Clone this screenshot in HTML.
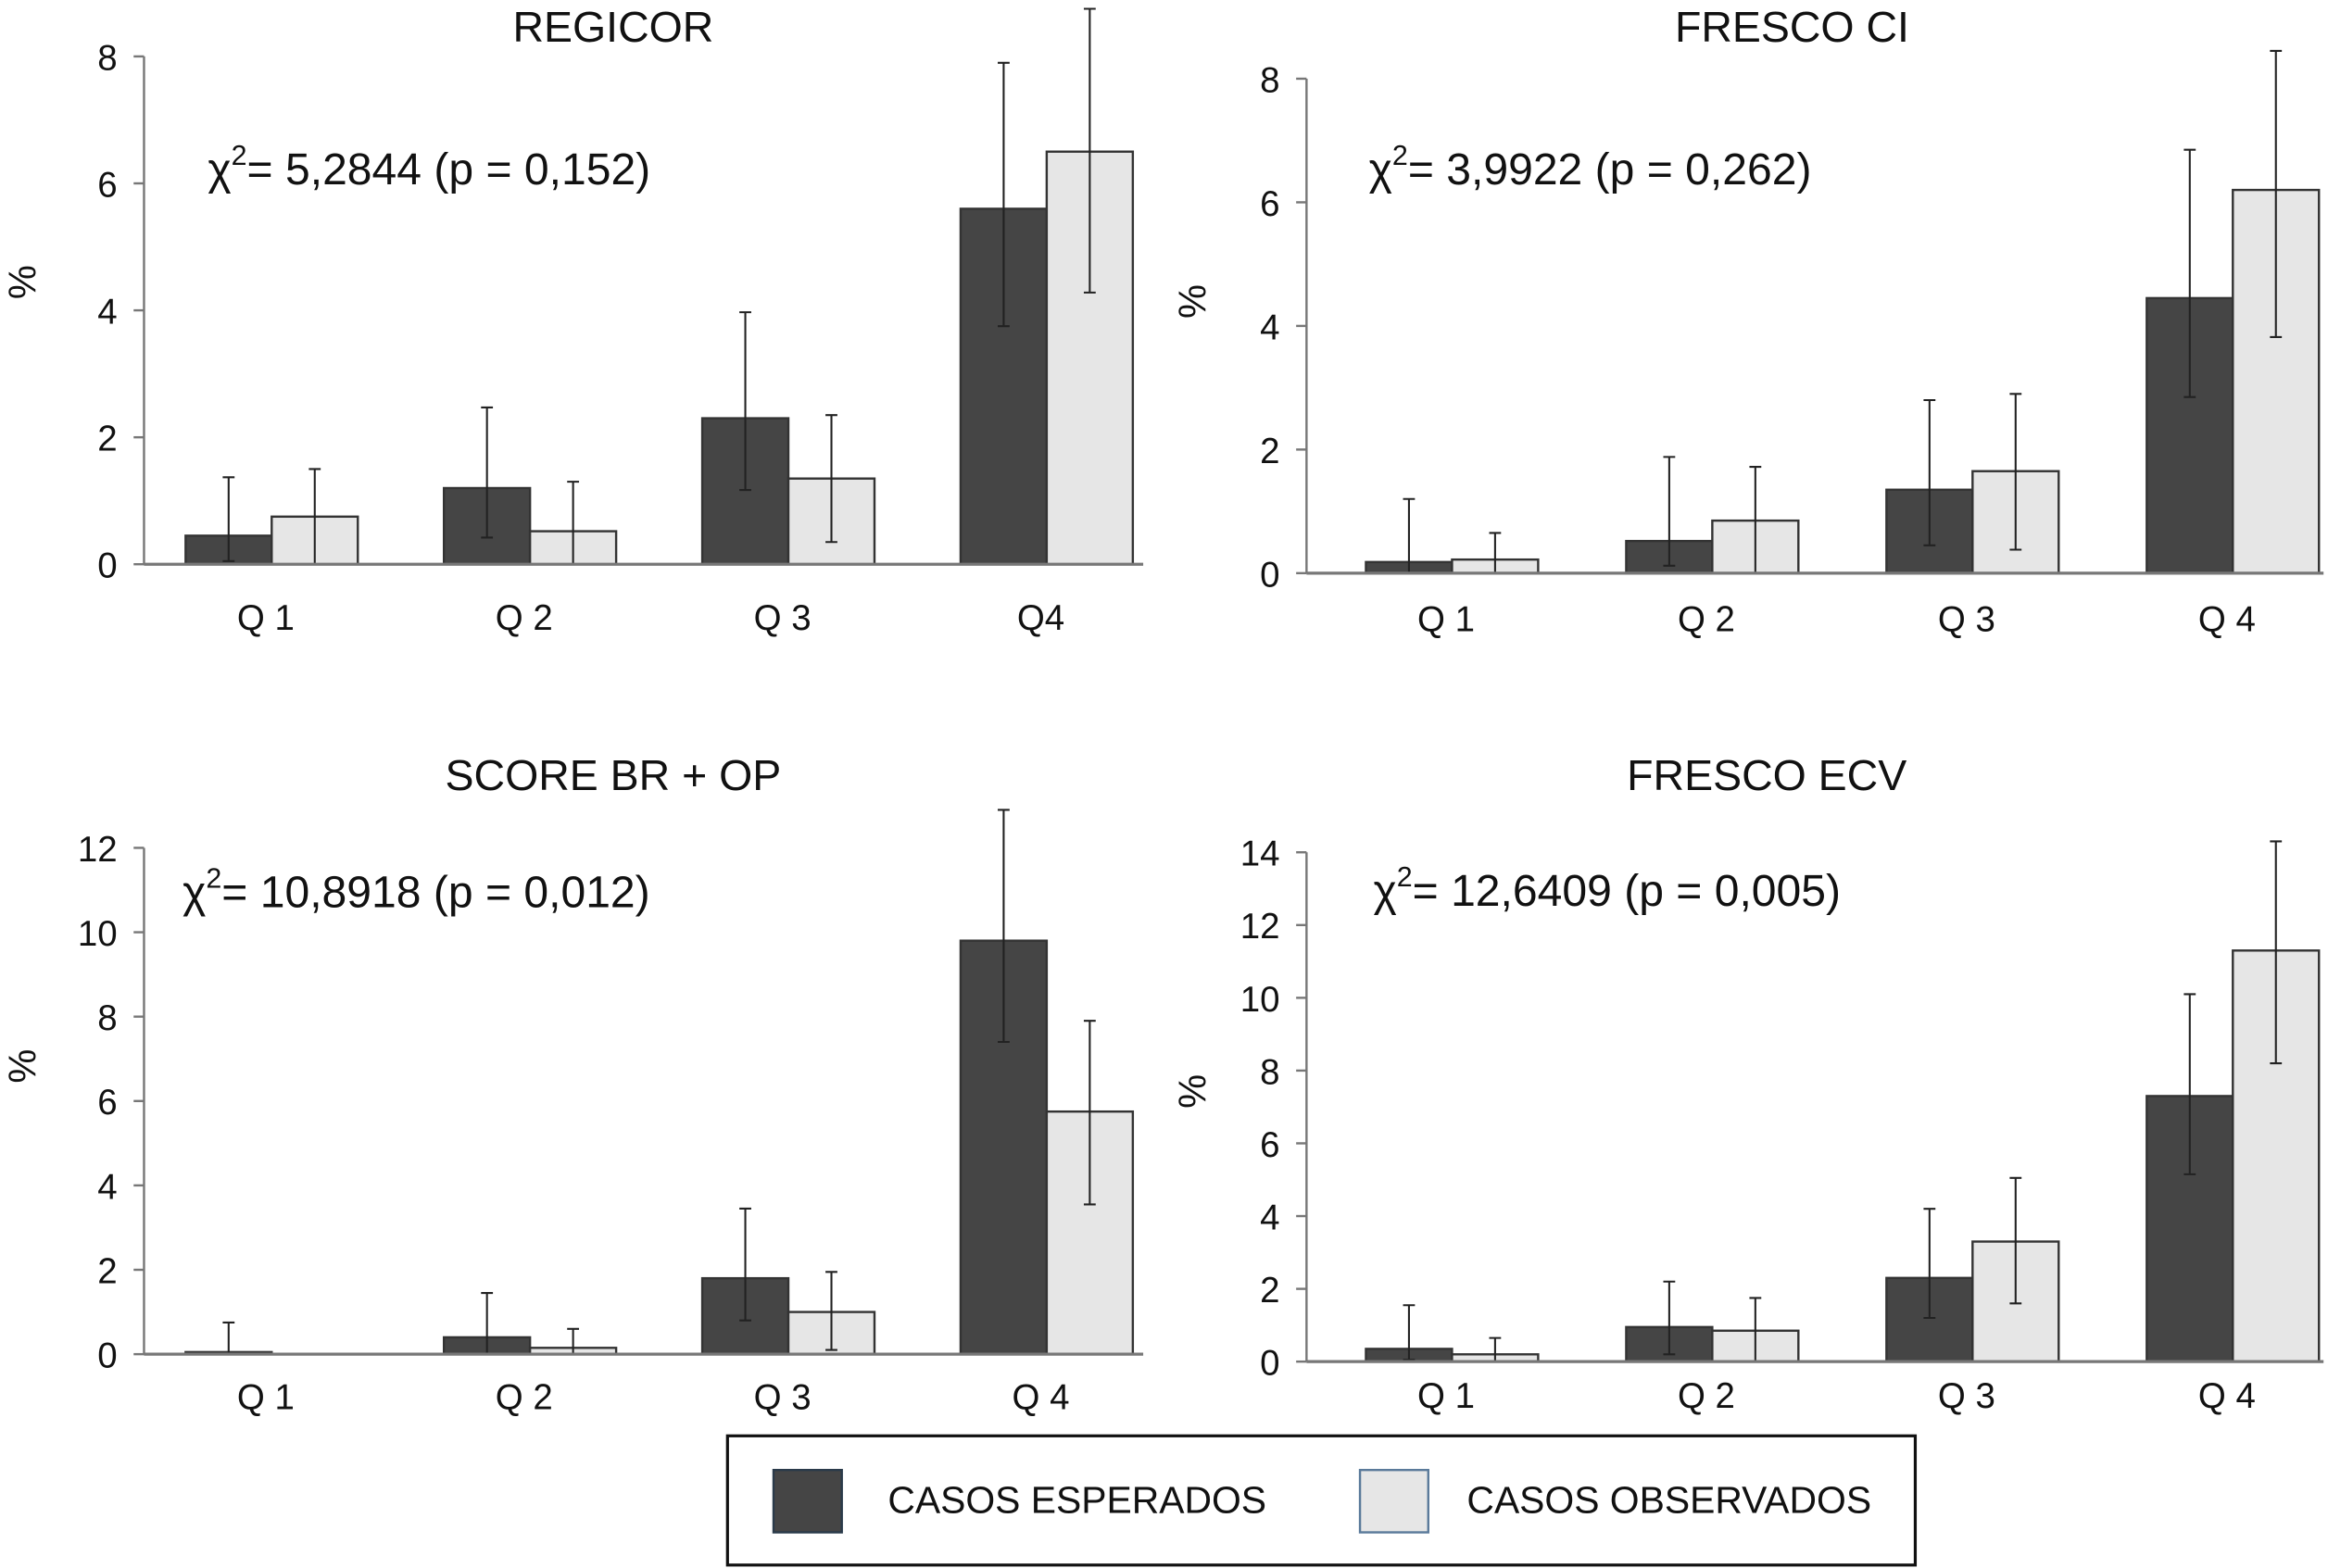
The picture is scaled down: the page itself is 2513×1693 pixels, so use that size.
<!DOCTYPE html>
<html><head><meta charset="utf-8"><style>
html,body{margin:0;padding:0;background:#fff}
svg{display:block}
text{font-family:"Liberation Sans",sans-serif;fill:#111}
</style></head><body>
<svg id="chart" width="2513" height="1693" viewBox="0 0 1568 1056" preserveAspectRatio="none" xmlns="http://www.w3.org/2000/svg">
<g>
<rect x="490" y="967" width="800" height="87" fill="#fff" stroke="#111" stroke-width="2"/>
<rect x="521" y="990" width="46" height="42" fill="#454545" stroke="#2a3a4a" stroke-width="1.5"/>
<text x="598" y="1019" font-size="25.5">CASOS ESPERADOS</text>
<rect x="916" y="990" width="46" height="42" fill="#e6e6e6" stroke="#5a7a9a" stroke-width="1.5"/>
<text x="988" y="1019" font-size="25.5">CASOS OBSERVADOS</text>
</g>
</svg>
<script>
const categories = ["Q 1","Q 2","Q 3","Q4"];
const categoriesB = ["Q 1","Q 2","Q 3","Q 4"];
// REGICOR
const regExp = [0.45,1.2,2.3,5.6];
const regObs = [0.75,0.52,1.35,6.5];
const regExpLo = [0.05,0.42,1.17,3.75];
const regExpHi = [1.37,2.47,3.97,7.9];
const regObsLo = [0,0,0.35,4.28];
const regObsHi = [1.5,1.3,2.35,8.75];
const regTicks = [0,2,4,6,8];
// FRESCO CI
const fciExp = [0.18,0.52,1.35,4.45];
const fciObs = [0.22,0.85,1.65,6.2];
const fciExpLo = [0,0.12,0.45,2.85];
const fciExpHi = [1.2,1.88,2.8,6.85];
const fciObsLo = [0,0,0.38,3.82];
const fciObsHi = [0.65,1.72,2.9,8.45];
const fciTicks = [0,2,4,6,8];
// SCORE BR + OP
const scoExp = [0.05,0.4,1.8,9.8];
const scoObs = [0,0.15,1.0,5.75];
const scoExpLo = [0,0,0.8,7.4];
const scoExpHi = [0.75,1.45,3.45,12.9];
const scoObsLo = [0,0,0.1,3.55];
const scoObsHi = [0,0.6,1.95,7.9];
const scoTicks = [0,2,4,6,8,10,12];
// FRESCO ECV
const fecExp = [0.35,0.95,2.3,7.3];
const fecObs = [0.2,0.85,3.3,11.3];
const fecExpLo = [0.05,0.2,1.2,5.15];
const fecExpHi = [1.55,2.2,4.2,10.1];
const fecObsLo = [0,0,1.6,8.2];
const fecObsHi = [0.65,1.75,5.05,14.3];
const fecTicks = [0,2,4,6,8,10,12,14];

const NS="http://www.w3.org/2000/svg";
const svg=document.getElementById('chart');
function mk(tag,attrs,parent){const e=document.createElementNS(NS,tag);for(const k in attrs)e.setAttribute(k,attrs[k]);parent.appendChild(e);return e;}

function panel(p){
  const g=mk('g',{},svg);
  
  
  const ymax=p.ticks[p.ticks.length-1];
  const y=v=>p.y0-(p.y0-p.yTop)*v/ymax;
  const xc=i=>p.x1+i*p.step;
  const t=mk('text',{x:p.tx,y:p.ty,'font-size':29,'text-anchor':'middle'},g);t.textContent=p.title;
  
  
  const c=mk('text',{x:p.cx,y:p.cy,'font-size':30},g);
  
  
  c.innerHTML='χ<tspan dy="-13" font-size="19">2</tspan><tspan dy="13">'+p.chi+'</tspan>';
  const yl=mk('text',{x:0,y:0,'font-size':26,transform:`translate(${p.px},${p.py}) rotate(-90)`,'text-anchor':'middle'},g);yl.textContent='%';
  
  
  const ax=mk('line',{x1:p.ax,y1:y(ymax),x2:p.ax,y2:p.y0,stroke:'#777','stroke-width':1.5},g);
  
  
  p.ticks.forEach(v=>{
    mk('line',{x1:p.ax-7,y1:y(v),x2:p.ax,y2:y(v),stroke:'#777','stroke-width':1.5},g);
    const tl=mk('text',{x:p.ax-18,y:y(v)+9,'font-size':24,'text-anchor':'end'},g);tl.textContent=v;
    
    
  });
  const bw=58;
  for(let i=0;i<4;i++){
    const cx=xc(i);
    [[p.e,p.eLo,p.eHi,'#454545',cx-bw,'bar-expected'],[p.o,p.oLo,p.oHi,'#e6e6e6',cx,'bar-observed']].forEach(([vals,lo,hi,fill,x0,nm])=>{
      const r=mk('rect',{x:x0,y:y(vals[i]),width:bw,height:p.y0-y(vals[i]),fill:fill,stroke:'#333','stroke-width':1.5},g);
      
      
      const m=x0+bw/2;
      const eb=mk('path',{d:`M${m},${y(hi[i])}V${y(lo[i])}M${m-4},${y(hi[i])}H${m+4}M${m-4},${y(lo[i])}H${m+4}`,stroke:'#222','stroke-width':1.3,fill:'none'},g);
      
      
    });
    const xl=mk('text',{x:cx-4,y:p.y0+p.lblOff,'font-size':24,'text-anchor':'middle'},g);xl.textContent=p.cats[i];
    
    
  }
  const xa=mk('line',{x1:p.ax,y1:p.y0,x2:p.xEnd,y2:p.y0,stroke:'#777','stroke-width':2},g);
  
  
}
panel({name:'panel-regicor',title:'REGICOR',tx:413,ty:28,chi:'= 5,2844 (p = 0,152)',cx:140,cy:124,px:24,py:190,ax:97,y0:380,yTop:38,ticks:regTicks,x1:183,step:174,xEnd:770,e:regExp,o:regObs,eLo:regExpLo,eHi:regExpHi,oLo:regObsLo,oHi:regObsHi,cats:categories,lblOff:44});
panel({name:'panel-fresco-ci',title:'FRESCO CI',tx:1207,ty:28,chi:'= 3,9922 (p = 0,262)',cx:922,cy:124,px:812,py:203,ax:880,y0:386,yTop:53,ticks:fciTicks,x1:978,step:175.3,xEnd:1565,e:fciExp,o:fciObs,eLo:fciExpLo,eHi:fciExpHi,oLo:fciObsLo,oHi:fciObsHi,cats:categoriesB,lblOff:39});
panel({name:'panel-score-br-op',title:'SCORE BR + OP',tx:413,ty:532,chi:'= 10,8918 (p = 0,012)',cx:123,cy:611,px:24,py:718,ax:97,y0:912,yTop:571,ticks:scoTicks,x1:183,step:174,xEnd:770,e:scoExp,o:scoObs,eLo:scoExpLo,eHi:scoExpHi,oLo:scoObsLo,oHi:scoObsHi,cats:categoriesB,lblOff:37});
panel({name:'panel-fresco-ecv',title:'FRESCO ECV',tx:1190,ty:532,chi:'= 12,6409 (p = 0,005)',cx:925,cy:610,px:812,py:735,ax:880,y0:917,yTop:574,ticks:fecTicks,x1:978,step:175.3,xEnd:1565,e:fecExp,o:fecObs,eLo:fecExpLo,eHi:fecExpHi,oLo:fecObsLo,oHi:fecObsHi,cats:categoriesB,lblOff:31});
</script>
</body></html>
